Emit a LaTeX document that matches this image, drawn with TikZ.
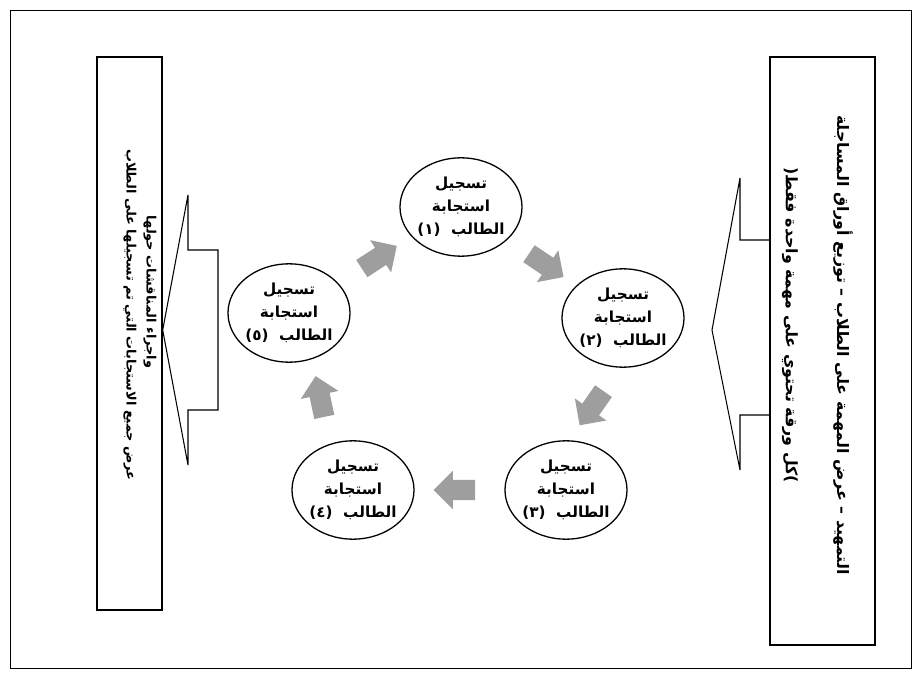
\documentclass[tikz,border=0pt]{standalone}
\usepackage{fontspec}
\usetikzlibrary{shapes.geometric,shapes.arrows,calc}
\newfontfamily\arabicfont[Script=Arabic]{DejaVu Sans}
\TeXXeTstate=1
\newcommand\artxt[1]{\beginR #1\endR}

\begin{document}
\begin{tikzpicture}[x=0.03cm, y=-0.03cm,
    student/.style={ellipse, draw, line width=1.1pt, minimum width=3.66cm, minimum height=2.95cm, inner sep=-6pt, align=center, font=\arabicfont\bfseries\fontsize{13}{19.5}\selectfont},
    flow/.style={single arrow, fill=black!38, draw=none, minimum height=1.25cm, inner sep=0.3cm, single arrow head extend=0.27cm},
    sidebox/.style={rectangle, draw, line width=1.2pt, fill=white, inner sep=0pt},
    sidetext/.style={rotate=-90, font=\arabicfont\bfseries\fontsize{11}{12}\selectfont},
    callout/.style={draw, line width=0.9pt, fill=white, line join=miter}
]
\useasboundingbox (0,0) rectangle (921,680);
\draw (10,10) rectangle (911,668);

% students
\node[student] (s1) at (461,207) {\artxt{تسجيل}\\ \artxt{استجابة}\\ \artxt{الطالب\ \ \beginL(١)\endL}};
\node[student] (s2) at (623,318) {\artxt{تسجيل}\\ \artxt{استجابة}\\ \artxt{الطالب\ \ \beginL(٢)\endL}};
\node[student] (s3) at (566,490) {\artxt{تسجيل}\\ \artxt{استجابة}\\ \artxt{الطالب\ \ \beginL(٣)\endL}};
\node[student] (s4) at (353,490) {\artxt{تسجيل}\\ \artxt{استجابة}\\ \artxt{الطالب\ \ \beginL(٤)\endL}};
\node[student] (s5) at (289,313) {\artxt{تسجيل}\\ \artxt{استجابة}\\ \artxt{الطالب\ \ \beginL(٥)\endL}};

% gray arrows between students
\node[flow, rotate=-34] (f12) at ($(s1)!.5!(s2)$) {};
\node[flow, rotate=-125] (f23) at ($(s2)!.5!(s3)$) {};
\node[flow, rotate=180] (f34) at ($(s3)!.5!(s4)$) {};
\node[flow, rotate=102] (f45) at ($(s4)!.5!(s5)$) {};
\node[flow, rotate=33] (f51) at ($(s5)!.5!(s1)$) {};

% right box with its callout
\draw[callout] (770,240) -- (740,240) -- (740,178) -- (712,330) -- (740,470) -- (740,415) -- (770,415);
\node[sidebox, minimum width=3.15cm, minimum height=17.64cm] (rbox) at (822.5,351) {};
\node[sidetext, font=\arabicfont\bfseries\fontsize{13.5}{14}\selectfont] (rline1) at (843,345) {\artxt{التمهيد – عرض المهمة على الطلاب – توزيع أوراق المساجلة}};
\node[sidetext, font=\arabicfont\bfseries\fontsize{13.5}{14}\selectfont] (rline2) at (790,325) {\artxt{\beginL)\endL{}كل ورقة تحتوي على مهمة واحدة فقط\beginL(\endL}};

% left box with its callout
\node[sidebox, minimum width=1.95cm, minimum height=16.59cm] (lbox) at (129.5,333.5) {};
\draw[callout] (lbox.east |- 0,330) -- (188,195) -- (188,250) -- (218,250) -- (218,410) -- (188,410) -- (188,465) -- cycle;
\node[sidetext] (lline1) at (130,315) {\artxt{عرض جميع الاستجابات التي تم تسجيلها على الطلاب}};
\node[sidetext] (lline2) at (150,292) {\artxt{واجراء المناقشات حولها}};

\end{tikzpicture}
\end{document}
